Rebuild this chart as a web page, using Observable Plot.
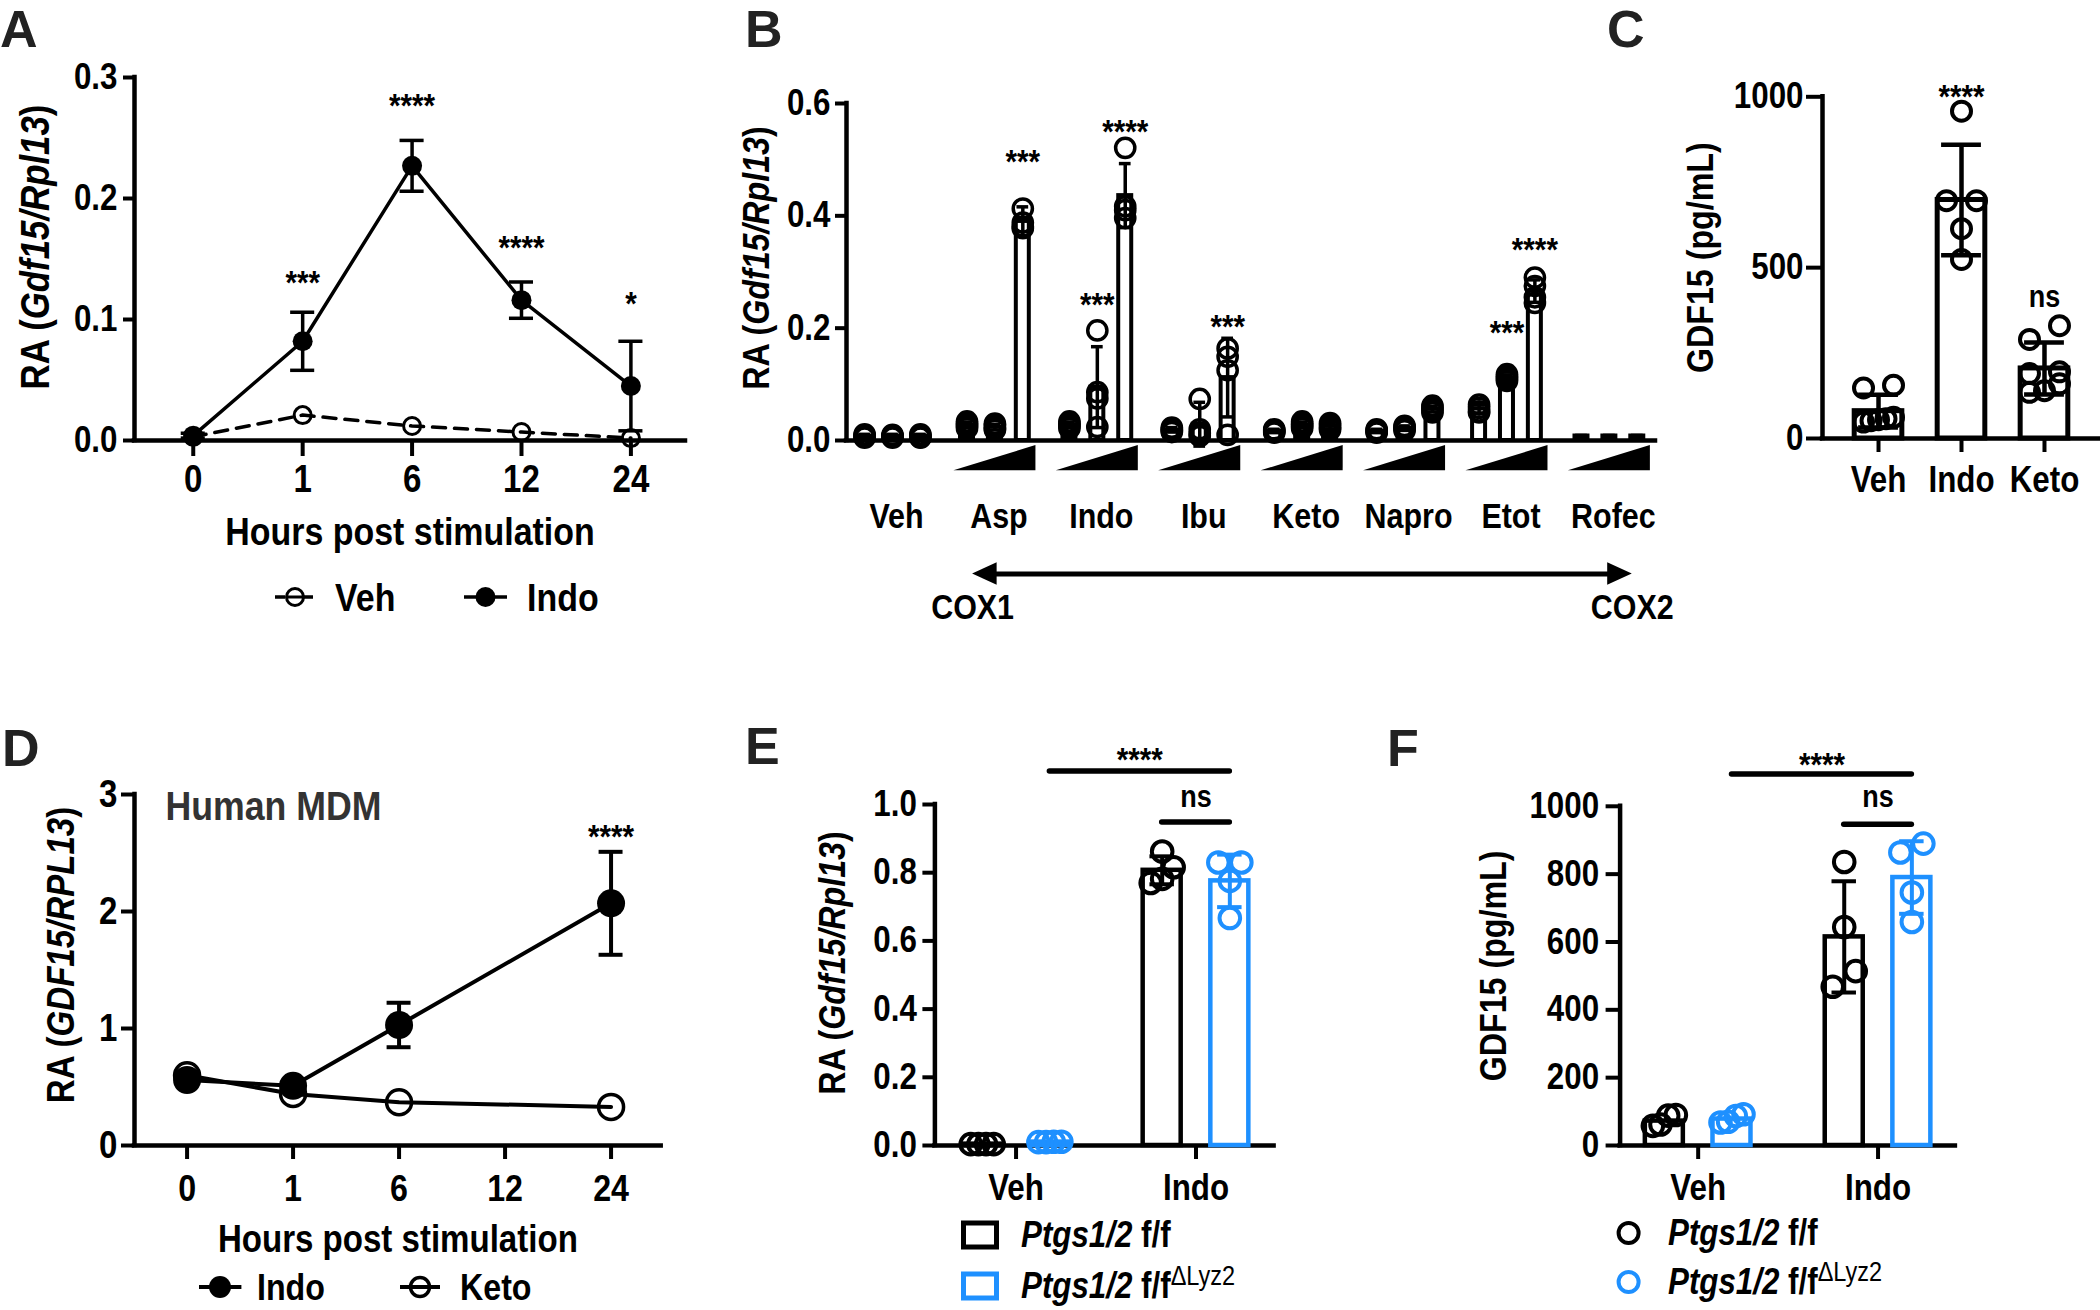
<!DOCTYPE html>
<html><head><meta charset="utf-8">
<script src="https://cdn.jsdelivr.net/npm/d3@7"></script>
<script src="https://cdn.jsdelivr.net/npm/@observablehq/plot@0.6"></script>
<style>
html,body{margin:0;padding:0;background:#fff;}
#fig{position:relative;width:2100px;height:1310px;overflow:hidden;font-family:"Liberation Sans",Arial,Helvetica,sans-serif;font-weight:bold;color:#000;background:#fff;}
.panel{position:absolute;}
.letter{position:absolute;font-size:52px;font-weight:bold;color:#222;line-height:1.2;}
.leg{position:absolute;display:flex;align-items:center;white-space:nowrap;}
.cond{display:inline-block;transform:scaleX(0.87);transform-origin:left center;line-height:1;}
.sup{font-size:27px;font-weight:normal;position:relative;top:-13px;}
</style></head><body><div id="fig"></div><script>
// ================= DATA =================
// Panel A (mouse, time course)
const hoursA = ["0", "1", "6", "12", "24"];
const aVehMean = [0.003, 0.021, 0.012, 0.007, 0.002];
const aIndoMean = [0.004, 0.082, 0.227, 0.116, 0.045];
const aIndoSD = [0.002, 0.024, 0.021, 0.015, 0.037];
const aStars = ["", "***", "****", "****", "*"];
const aStarY = [null, 0.137, 0.283, 0.166, 0.119];

// Panel B (NSAID panel, 3 doses each)
const bGroups = ["Veh", "Asp", "Indo", "Ibu", "Keto", "Napro", "Etot", "Rofec"];
const bMean = [0.008, 0.008, 0.008, 0.028, 0.024, 0.39, 0.028, 0.095, 0.436, 0.019, 0.029, 0.112,
  0.017, 0.028, 0.025, 0.017, 0.022, 0.056, 0.056, 0.112, 0.266, 0.008, 0.008, 0.008];
const bSD = [0.003, 0.003, 0.003, 0.005, 0.005, 0.026, 0.005, 0.072, 0.057, 0.004, 0.039, 0.07,
  0.003, 0.005, 0.005, 0.003, 0.004, 0.005, 0.007, 0.005, 0.02, 0.001, 0.001, 0.001];
const bPoints = [
  [0.011, 0.009, 0.007, 0.005], [0.010, 0.008, 0.007, 0.005], [0.011, 0.009, 0.006, 0.005],
  [0.034, 0.030, 0.026, 0.022], [0.030, 0.026, 0.021, 0.019], [0.413, 0.388, 0.381, 0.378],
  [0.034, 0.030, 0.026, 0.022], [0.196, 0.086, 0.075, 0.024], [0.521, 0.417, 0.410, 0.396],
  [0.023, 0.020, 0.018, 0.015], [0.074, 0.020, 0.012, 0.008], [0.164, 0.149, 0.125, 0.010],
  [0.020, 0.018, 0.016, 0.014], [0.034, 0.030, 0.026, 0.022], [0.031, 0.027, 0.023, 0.019],
  [0.020, 0.018, 0.016, 0.014], [0.026, 0.023, 0.021, 0.018], [0.062, 0.058, 0.054, 0.050],
  [0.064, 0.058, 0.052, 0.050], [0.118, 0.114, 0.110, 0.106], [0.290, 0.275, 0.255, 0.245],
  [], [], []
];
const bStarGroups = ["Asp", "Indo", "Indo", "Ibu", "Etot", "Etot"];
const bStarDose = [2, 1, 2, 2, 1, 2];
const bStarLabels = ["***", "***", "****", "***", "***", "****"];
const bStarY = [0.509, 0.256, 0.5625, 0.217, 0.205, 0.354];

// Panel C (GDF15 protein)
const cGroups = ["Veh", "Indo", "Keto"];
const cMean = [80, 698, 205];
const cSD = [48, 162, 76];
const cPoints = [[156, 148, 62, 58, 55, 52, 48], [958, 696, 696, 614, 524], [330, 290, 195, 190, 160, 140, 135]];
const cStars = ["", "****", "ns"];
const cStarY = [null, 1023, 414];

// Panel D (human MDM)
const hoursD = ["0", "1", "6", "12", "24"];
const dIndoMean = [0.56, 0.51, 1.03, null, 2.07];
const dIndoSD = [0.03, 0.03, 0.19, null, 0.44];
const dKetoMean = [0.60, 0.44, 0.37, null, 0.33];
const dKetoSD = [0.02, 0.02, 0.02, null, 0.02];
const dStars = ["", "", "", "", "****"];
const dStarY = [null, null, null, null, 2.70];

// Panels E and F (genotypes)
const efGroups = ["Veh", "Indo"];
const eMeanFF = [0.004, 0.807], eSDFF = [0.001, 0.041];
const eMeanKO = [0.010, 0.776], eSDKO = [0.002, 0.077];
const ePtsFF = [[0.004, 0.004, 0.004, 0.004], [0.862, 0.816, 0.782, 0.770]];
const ePtsKO = [[0.011, 0.011, 0.010, 0.010], [0.830, 0.830, 0.776, 0.667]];
const eSigLabels = ["****", "ns"], eSigLineY = [1.098, 0.949], eSigTextY = [1.155, 1.023];

const fMeanFF = [72, 615], fSDFF = [15, 164];
const fMeanKO = [78, 790], fSDKO = [10, 107];
const fPtsFF = [[90, 88, 62, 58], [836, 644, 514, 468]];
const fPtsKO = [[92, 87, 70, 68], [890, 864, 746, 659]];
const fSigLabels = ["****", "ns"], fSigLineY = [1095, 947], fSigTextY = [1144, 1028];
// brackets: [fromGroup, fromGenotype, toGroup, toGenotype]
const sigPairs = [[0, "ko", 1, "ko"], [1, "ff", 1, "ko"]];

// ================= HELPERS =================
const BLUE = "#1E90FF";
const FONT = '"Liberation Sans", Arial, Helvetica, sans-serif';
const SX = 0.87;
const fig = document.getElementById("fig");

function frameOpts(rect, fr) {
  return {
    width: rect.right - rect.left, height: rect.bottom - rect.top,
    marginLeft: fr.x0 - rect.left, marginRight: rect.right - fr.x1,
    marginTop: fr.y0 - rect.top, marginBottom: rect.bottom - fr.y1,
    style: `background:transparent;overflow:visible;font-family:${FONT};font-weight:bold;color:#000;max-width:none;`
  };
}
function isNum(s) { return s != null && /^-?[\d.]+(e-?\d+)?$/.test(s.trim()); }
function condense(svg) {
  svg.querySelectorAll("text").forEach(t => {
    if (t.closest('[aria-label="stars"]') || t.closest('[aria-label="plain"]')) return;
    let extra = "";
    const xs = t.getAttribute("x");
    if (isNum(xs)) { extra = `translate(${+xs},0) `; t.removeAttribute("x"); }
    const tr = t.getAttribute("transform") || "";
    t.setAttribute("transform", `${tr} ${extra}scale(${SX},1)`.trim());
  });
}
function italicize(svg) {
  const ns = "http://www.w3.org/2000/svg";
  svg.querySelectorAll("text").forEach(t => {
    const s = t.textContent;
    if (!/(Gdf15\/Rpl13|GDF15\/RPL13)/.test(s)) return;
    const m = s.match(/^(.*\()(.+)(\).*)$/);
    if (!m) return;
    t.textContent = "";
    const a = document.createElementNS(ns, "tspan"); a.textContent = m[1];
    const b = document.createElementNS(ns, "tspan"); b.textContent = m[2]; b.setAttribute("font-style", "italic");
    const c = document.createElementNS(ns, "tspan"); c.textContent = m[3];
    t.append(a, b, c);
  });
}
function mount(svg, rect) {
  const div = document.createElement("div");
  div.className = "panel";
  div.style.left = rect.left + "px"; div.style.top = rect.top + "px";
  div.style.width = (rect.right - rect.left) + "px"; div.style.height = (rect.bottom - rect.top) + "px";
  div.appendChild(svg); fig.appendChild(div);
  condense(svg); italicize(svg);
}
function yTitle(text, fontSize, dx, dy) {
  return Plot.text([text], {text: d => d, frameAnchor: "left", rotate: -90, lineAnchor: "top", textAnchor: "middle", fontSize, dx, dy});
}
function xTitle(text, fontSize, dy) {
  return Plot.text([text], {text: d => d, frameAnchor: "bottom", lineAnchor: "top", fontSize, dy});
}
function axisLines(xmin, ymax, sw) {
  return [
    Plot.ruleY([0], {strokeWidth: sw, strokeLinecap: "square"}),
    Plot.ruleX([xmin], {y1: 0, y2: ymax, strokeWidth: sw, strokeLinecap: "square"})
  ];
}
function errBars(data, x, lo, hi, cap, sw, stroke = "#000") {
  return [
    Plot.ruleX(data, {x, y1: lo, y2: hi, strokeWidth: sw, stroke}),
    Plot.ruleY(data, {y: hi, x1: d => x(d) - cap, x2: d => x(d) + cap, strokeWidth: sw, stroke}),
    Plot.ruleY(data, {y: lo, x1: d => x(d) - cap, x2: d => x(d) + cap, strokeWidth: sw, stroke})
  ];
}
// GraphPad-like horizontal spreading of points that fall in the same row
function spreadOffsets(vals, pxPerUnit, maxSpread, stepCap, gap = 18) {
  const idx = d3.range(vals.length).sort((a, b) => vals[a] - vals[b]);
  const rows = []; let cur = [];
  for (const i of idx) {
    if (cur.length && (vals[i] - vals[cur[0]]) * pxPerUnit > gap) { rows.push(cur); cur = []; }
    cur.push(i);
  }
  if (cur.length) rows.push(cur);
  const off = new Array(vals.length).fill(0);
  for (const row of rows) {
    const n = row.length; if (n < 2) continue;
    const step = Math.min(stepCap, maxSpread / (n - 1));
    row.forEach((i, j) => off[i] = (j - (n - 1) / 2) * step);
  }
  return off;
}

// ================= PANEL A =================
{
  const rect = {left: 0, top: 40, right: 700, bottom: 560};
  const fr = {x0: 134, x1: 685, y0: 77, y1: 440};
  const xdom = [-0.537, 4.499];
  const veh = hoursA.map((h, i) => ({i, m: aVehMean[i]}));
  const indo = hoursA.map((h, i) => ({i, m: aIndoMean[i], s: aIndoSD[i], star: aStars[i], sy: aStarY[i]}));
  const svg = Plot.plot({
    ...frameOpts(rect, fr),
    x: {type: "linear", domain: xdom},
    y: {type: "linear", domain: [0, 0.3]},
    marks: [
      ...axisLines(xdom[0], 0.3, 4.5),
      Plot.axisY({ticks: [0, 0.1, 0.2, 0.3], tickFormat: ".1f", tickSize: 11, tickPadding: 6, fontSize: 36, strokeWidth: 4, label: null}),
      Plot.axisX({ticks: d3.range(hoursA.length), tickFormat: i => hoursA[i], tickSize: 16, tickPadding: 9, fontSize: 38, strokeWidth: 4, label: null}),
      Plot.line(veh, {x: "i", y: "m", strokeWidth: 3.5, strokeDasharray: "13,9"}),
      ...errBars(indo, d => d.i, d => d.m - d.s, d => d.m + d.s, 0.11, 3.5),
      Plot.line(indo, {x: "i", y: "m", strokeWidth: 3.5}),
      Plot.dot(veh, {x: "i", y: "m", r: 8.5, stroke: "#000", strokeWidth: 3, fill: "none"}),
      Plot.dot(indo, {x: "i", y: "m", r: 10, fill: "#000"}),
      Plot.text(indo.filter(d => d.star), {x: "i", y: "sy", text: "star", fontSize: 34, dy: 8, ariaLabel: "stars"}),
      yTitle("RA (Gdf15/Rpl13)", 40, -114, -12),
      xTitle("Hours post stimulation", 39, 77)
    ]
  });
  mount(svg, rect);
}

// ================= PANEL B =================
{
  const rect = {left: 720, top: 40, right: 1680, bottom: 640};
  const fr = {x0: 846, x1: 1655, y0: 103, y1: 440};
  const GP = 3.671;               // group pitch in bar slots
  const xdom = [-1.649, 27.35];
  const TT = -0.009, TB = -0.054;  // dose-ramp triangles (below axis)
  const AY = -0.2375, AH = 0.02, HL = 0.88; // arrow
  const COXY = -0.298;
  const bars = bMean.map((m, k) => {
    const g = Math.floor(k / 3), d = k % 3;
    return {g, d, x: g * GP + d - 1, m, s: bSD[k]};
  });
  const dots = bars.flatMap((b, k) => bPoints[k].map(v => ({x: b.x, v})));
  const stars = bStarGroups.map((g, j) => ({x: bGroups.indexOf(g) * GP + bStarDose[j] - 1, y: bStarY[j], label: bStarLabels[j]}));
  const tri = bGroups.slice(1).flatMap((g, k) => {
    const c = (k + 1) * GP;
    return [{g, x: c - 1.47, y1: TB, y2: TB}, {g, x: c + 1.47, y1: TB, y2: TT}];
  });
  const ax1 = 1 * GP - 0.80, ax2 = 7 * GP + 0.82;
  const svg = Plot.plot({
    ...frameOpts(rect, fr),
    x: {type: "linear", domain: xdom},
    y: {type: "linear", domain: [0, 0.6]},
    marks: [
      ...axisLines(xdom[0], 0.6, 4.5),
      Plot.axisY({ticks: [0, 0.2, 0.4, 0.6], tickFormat: ".1f", tickSize: 11, tickPadding: 5, fontSize: 36, strokeWidth: 4, label: null}),
      Plot.axisX({ticks: d3.range(bGroups.length).map(g => g * GP), tickFormat: v => bGroups[Math.round(v / GP)], tickSize: 0, tickPadding: 63, fontSize: 35, dx: 4, label: null}),
      Plot.rect(bars, {x1: d => d.x - 0.233, x2: d => d.x + 0.233, y1: 0, y2: "m", fill: "white", stroke: "#000", strokeWidth: 4}),
      ...errBars(bars, d => d.x, d => d.m - d.s, d => d.m + d.s, 0.21, 3.5),
      Plot.dot(dots, {x: "x", y: "v", r: 9.6, stroke: "#000", strokeWidth: 3.5, fill: "none"}),
      Plot.text(stars, {x: "x", y: "y", text: "label", fontSize: 34, dy: 8, ariaLabel: "stars"}),
      Plot.areaY(tri, {x: "x", y1: "y1", y2: "y2", z: "g", fill: "#000"}),
      Plot.ruleY([AY], {x1: ax1 + 0.5, x2: ax2 - 0.5, strokeWidth: 5}),
      Plot.areaY([{x: ax1, y1: AY, y2: AY}, {x: ax1 + HL, y1: AY - AH, y2: AY + AH}], {x: "x", y1: "y1", y2: "y2", fill: "#000"}),
      Plot.areaY([{x: ax2 - HL, y1: AY - AH, y2: AY + AH}, {x: ax2, y1: AY, y2: AY}], {x: "x", y1: "y1", y2: "y2", fill: "#000"}),
      Plot.text([{x: ax1, t: "COX1"}, {x: ax2, t: "COX2"}], {x: "x", y: COXY, text: "t", fontSize: 35}),
      yTitle("RA (Gdf15/Rpl13)", 37, -104, -14)
    ]
  });
  mount(svg, rect);
}

// ================= PANEL C =================
{
  const rect = {left: 1680, top: 40, right: 2100, bottom: 510};
  const fr = {x0: 1822, x1: 2100, y0: 96.3, y1: 438};
  const xdom = [-0.675, 2.675];
  const pxX = (fr.x1 - fr.x0) / (xdom[1] - xdom[0]);
  const pxY = (fr.y1 - fr.y0) / 1000;
  const bars = cGroups.map((g, i) => ({i, m: cMean[i], s: cSD[i], star: cStars[i], sy: cStarY[i]}));
  const pts = cGroups.flatMap((g, i) => {
    const off = spreadOffsets(cPoints[i], pxY, 30, 36);
    return cPoints[i].map((v, j) => ({x: i + off[j] / pxX, v}));
  });
  const hw = 0.287;
  const svg = Plot.plot({
    ...frameOpts(rect, fr),
    x: {type: "linear", domain: xdom},
    y: {type: "linear", domain: [0, 1000]},
    marks: [
      ...axisLines(xdom[0], 1000, 4.5),
      Plot.axisY({ticks: [0, 500, 1000], tickFormat: "d", tickSize: 16, tickPadding: 3, fontSize: 36, strokeWidth: 4, label: null}),
      Plot.axisX({ticks: [0, 1, 2], tickFormat: i => cGroups[i], tickSize: 14, tickPadding: 14, fontSize: 36, strokeWidth: 4, label: null}),
      Plot.rect(bars, {x1: d => d.i - hw, x2: d => d.i + hw, y1: 0, y2: "m", fill: "white", stroke: "#000", strokeWidth: 5}),
      ...errBars(bars, d => d.i, d => d.m - d.s, d => d.m + d.s, 0.24, 4.5),
      Plot.dot(pts, {x: "x", y: "v", r: 9.5, stroke: "#000", strokeWidth: 4, fill: "none"}),
      Plot.text(bars.filter(d => d.star && d.star !== "ns"), {x: "i", y: "sy", text: "star", fontSize: 34, dy: 8, ariaLabel: "stars"}),
      Plot.text(bars.filter(d => d.star === "ns"), {x: "i", y: "sy", text: "star", fontSize: 31}),
      yTitle("GDF15 (pg/mL)", 37, -136, -10)
    ]
  });
  mount(svg, rect);
}

// ================= PANEL D =================
{
  const rect = {left: 0, top: 770, right: 700, bottom: 1262};
  const fr = {x0: 134, x1: 660.7, y0: 794, y1: 1145};
  const xdom = [-0.496, 4.473];
  const indo = hoursD.map((h, i) => ({i, m: dIndoMean[i], s: dIndoSD[i], star: dStars[i], sy: dStarY[i]})).filter(d => d.m != null);
  const keto = hoursD.map((h, i) => ({i, m: dKetoMean[i], s: dKetoSD[i]})).filter(d => d.m != null);
  const svg = Plot.plot({
    ...frameOpts(rect, fr),
    x: {type: "linear", domain: xdom},
    y: {type: "linear", domain: [0, 3]},
    marks: [
      ...axisLines(xdom[0], 3, 4.5),
      Plot.axisY({ticks: [0, 1, 2, 3], tickFormat: "d", tickSize: 13, tickPadding: 4, fontSize: 38, strokeWidth: 4, label: null}),
      Plot.axisX({ticks: d3.range(hoursD.length), tickFormat: i => hoursD[i], tickSize: 14, tickPadding: 15, fontSize: 37, strokeWidth: 4, label: null}),
      Plot.line(keto, {x: "i", y: "m", strokeWidth: 4}),
      ...errBars(indo, d => d.i, d => d.m - d.s, d => d.m + d.s, 0.113, 4),
      Plot.line(indo, {x: "i", y: "m", strokeWidth: 4}),
      Plot.dot(indo, {x: "i", y: "m", r: 14, fill: "#000"}),
      Plot.dot(keto, {x: "i", y: "m", r: 12.5, stroke: "#000", strokeWidth: 3.5, fill: "none"}),
      Plot.text(indo.filter(d => d.star), {x: "i", y: "sy", text: "star", fontSize: 34, dy: 8, ariaLabel: "stars"}),
      Plot.text(["Human MDM"], {text: d => d, frameAnchor: "top-left", textAnchor: "start", lineAnchor: "top", dx: 31, dy: -4, fontSize: 41, fill: "#333", ariaLabel: "plain"}),
      yTitle("RA (GDF15/RPL13)", 38, -87, -15),
      xTitle("Hours post stimulation", 38, 80)
    ]
  });
  mount(svg, rect);
}

// ================= PANELS E & F =================
function genoPanel(cfg) {
  const {rect, fr, xdom, ydom, yticks, yfmt, ytSize, ytPad, mFF, sFF, mKO, sKO, pFF, pKO, sigLabels, sigLineY, sigTextY, title, tdx, tdy} = cfg;
  const DODGE = 0.188, HW = 0.1056, CAP = 0.068;
  const pxX = (fr.x1 - fr.x0) / (xdom[1] - xdom[0]);
  const pxY = (fr.y1 - fr.y0) / (ydom[1] - ydom[0]);
  const pos = (g, geno) => g + (geno === "ff" ? -DODGE : DODGE);
  const mkBars = (means, sds, geno) => efGroups.map((g, i) => ({x: pos(i, geno), m: means[i], s: sds[i]}));
  const mkPts = (pts, geno) => efGroups.flatMap((g, i) => {
    const off = spreadOffsets(pts[i], pxY, 23, 23);
    return pts[i].map((v, j) => ({x: pos(i, geno) + off[j] / pxX, v}));
  });
  const barsFF = mkBars(mFF, sFF, "ff"), barsKO = mkBars(mKO, sKO, "ko");
  const sig = sigPairs.map((p, j) => ({x1: pos(p[0], p[1]), x2: pos(p[2], p[3]), ly: sigLineY[j], ty: sigTextY[j], label: sigLabels[j]}));
  const svg = Plot.plot({
    ...frameOpts(rect, fr),
    x: {type: "linear", domain: xdom},
    y: {type: "linear", domain: ydom},
    marks: [
      ...axisLines(xdom[0], ydom[1], 4.5),
      Plot.axisY({ticks: yticks, tickFormat: yfmt, tickSize: ytSize, tickPadding: ytPad, fontSize: 36, strokeWidth: 4, label: null}),
      Plot.axisX({ticks: [0, 1], tickFormat: i => efGroups[i], tickSize: 14, tickPadding: 15, fontSize: 36, strokeWidth: 4, label: null}),
      Plot.rect(barsFF, {x1: d => d.x - HW, x2: d => d.x + HW, y1: 0, y2: "m", fill: "white", stroke: "#000", strokeWidth: 4.5}),
      Plot.rect(barsKO, {x1: d => d.x - HW, x2: d => d.x + HW, y1: 0, y2: "m", fill: "white", stroke: BLUE, strokeWidth: 4.5}),
      ...errBars(barsFF.filter(d => d.m > ydom[1] * 0.1), d => d.x, d => d.m - d.s, d => d.m + d.s, CAP, 4),
      ...errBars(barsKO.filter(d => d.m > ydom[1] * 0.1), d => d.x, d => d.m - d.s, d => d.m + d.s, CAP, 4, BLUE),
      Plot.dot(mkPts(pFF, "ff"), {x: "x", y: "v", r: 10.3, stroke: "#000", strokeWidth: 4, fill: "none"}),
      Plot.dot(mkPts(pKO, "ko"), {x: "x", y: "v", r: 10.3, stroke: BLUE, strokeWidth: 4, fill: "none"}),
      Plot.ruleY(sig, {y: "ly", x1: "x1", x2: "x2", strokeWidth: 5.5, strokeLinecap: "round"}),
      Plot.text(sig.filter(d => d.label !== "ns"), {x: d => (d.x1 + d.x2) / 2, y: "ty", text: "label", fontSize: 34, dy: 8, ariaLabel: "stars"}),
      Plot.text(sig.filter(d => d.label === "ns"), {x: d => (d.x1 + d.x2) / 2, y: "ty", text: "label", fontSize: 31}),
      yTitle(title, 37, tdx, tdy)
    ]
  });
  mount(svg, rect);
}
genoPanel({
  rect: {left: 800, top: 720, right: 1340, bottom: 1215},
  fr: {x0: 934.4, x1: 1273.6, y0: 804, y1: 1145},
  xdom: [-0.451, 1.434], ydom: [0, 1], yticks: [0, 0.2, 0.4, 0.6, 0.8, 1.0], yfmt: ".1f", ytSize: 12, ytPad: 6,
  mFF: eMeanFF, sFF: eSDFF, mKO: eMeanKO, sKO: eSDKO, pFF: ePtsFF, pKO: ePtsKO,
  sigLabels: eSigLabels, sigLineY: eSigLineY, sigTextY: eSigTextY,
  title: "RA (Gdf15/Rpl13)", tdx: -116, tdy: -12
});
genoPanel({
  rect: {left: 1440, top: 720, right: 2000, bottom: 1215},
  fr: {x0: 1619.6, x1: 1954.9, y0: 805.8, y1: 1145},
  xdom: [-0.434, 1.430], ydom: [0, 1000], yticks: [0, 200, 400, 600, 800, 1000], yfmt: "d", ytSize: 14, ytPad: 7,
  mFF: fMeanFF, sFF: fSDFF, mKO: fMeanKO, sKO: fSDKO, pFF: fPtsFF, pKO: fPtsKO,
  sigLabels: fSigLabels, sigLineY: fSigLineY, sigTextY: fSigTextY,
  title: "GDF15 (pg/mL)", tdx: -140, tdy: -10
});

// ================= PANEL LETTERS =================
[["A", 0, -2], ["B", 745, -2], ["C", 1607, -2], ["D", 2, 717], ["E", 745, 715], ["F", 1387, 717]].forEach(([t, x, y]) => {
  const d = document.createElement("div");
  d.className = "letter"; d.textContent = t;
  d.style.left = x + "px"; d.style.top = y + "px";
  fig.appendChild(d);
});

// ================= LEGENDS =================
function legendItem(x, yc, swW, swatch, gap, html, fontSize) {
  const d = document.createElement("div");
  d.className = "leg";
  d.style.left = x + "px"; d.style.top = (yc - 25) + "px"; d.style.height = "50px";
  d.innerHTML = `<svg width="${swW}" height="50" style="flex:none;overflow:visible">${swatch}</svg>` +
    `<span class="cond" style="font-size:${fontSize}px;margin-left:${gap}px">${html}</span>`;
  fig.appendChild(d);
}
// A
legendItem(274.5, 597, 40, `<line x1="0" y1="25" x2="40" y2="25" stroke="#000" stroke-width="3.5" stroke-dasharray="10,4"/><circle cx="20" cy="25" r="8.5" fill="#fff" stroke="#000" stroke-width="3"/><line x1="12" y1="25" x2="28" y2="25" stroke="#000" stroke-width="3"/>`, 20, "Veh", 39);
legendItem(464, 597, 43, `<line x1="0" y1="25" x2="43" y2="25" stroke="#000" stroke-width="3.5"/><circle cx="21.5" cy="25" r="10" fill="#000"/>`, 20, "Indo", 39);
// D
legendItem(198.6, 1287, 42.4, `<line x1="0" y1="25" x2="42.4" y2="25" stroke="#000" stroke-width="4"/><circle cx="21" cy="25" r="11" fill="#000"/>`, 15.7, "Indo", 37);
legendItem(399.5, 1287, 40, `<line x1="0" y1="25" x2="40" y2="25" stroke="#000" stroke-width="4"/><circle cx="20" cy="25" r="9.5" fill="none" stroke="#000" stroke-width="3.5"/>`, 20, "Keto", 37);
// E
const geno1 = `<i>Ptgs1/2</i> f/f`;
const geno2 = `<i>Ptgs1/2</i> f/f<span class="sup">&Delta;Lyz2</span>`;
legendItem(961, 1235, 38, `<rect x="2.5" y="13" width="33" height="24" fill="none" stroke="#000" stroke-width="5"/>`, 22, geno1, 36);
legendItem(961, 1286, 38, `<rect x="2.5" y="13" width="33" height="24" fill="none" stroke="${BLUE}" stroke-width="5"/>`, 22, geno2, 36);
// F
legendItem(1616, 1233, 26, `<circle cx="12.6" cy="25" r="10" fill="none" stroke="#000" stroke-width="4"/>`, 26, geno1, 36);
legendItem(1616, 1282, 26, `<circle cx="12.6" cy="25" r="10" fill="none" stroke="${BLUE}" stroke-width="4"/>`, 26, geno2, 36);
</script></body></html>
